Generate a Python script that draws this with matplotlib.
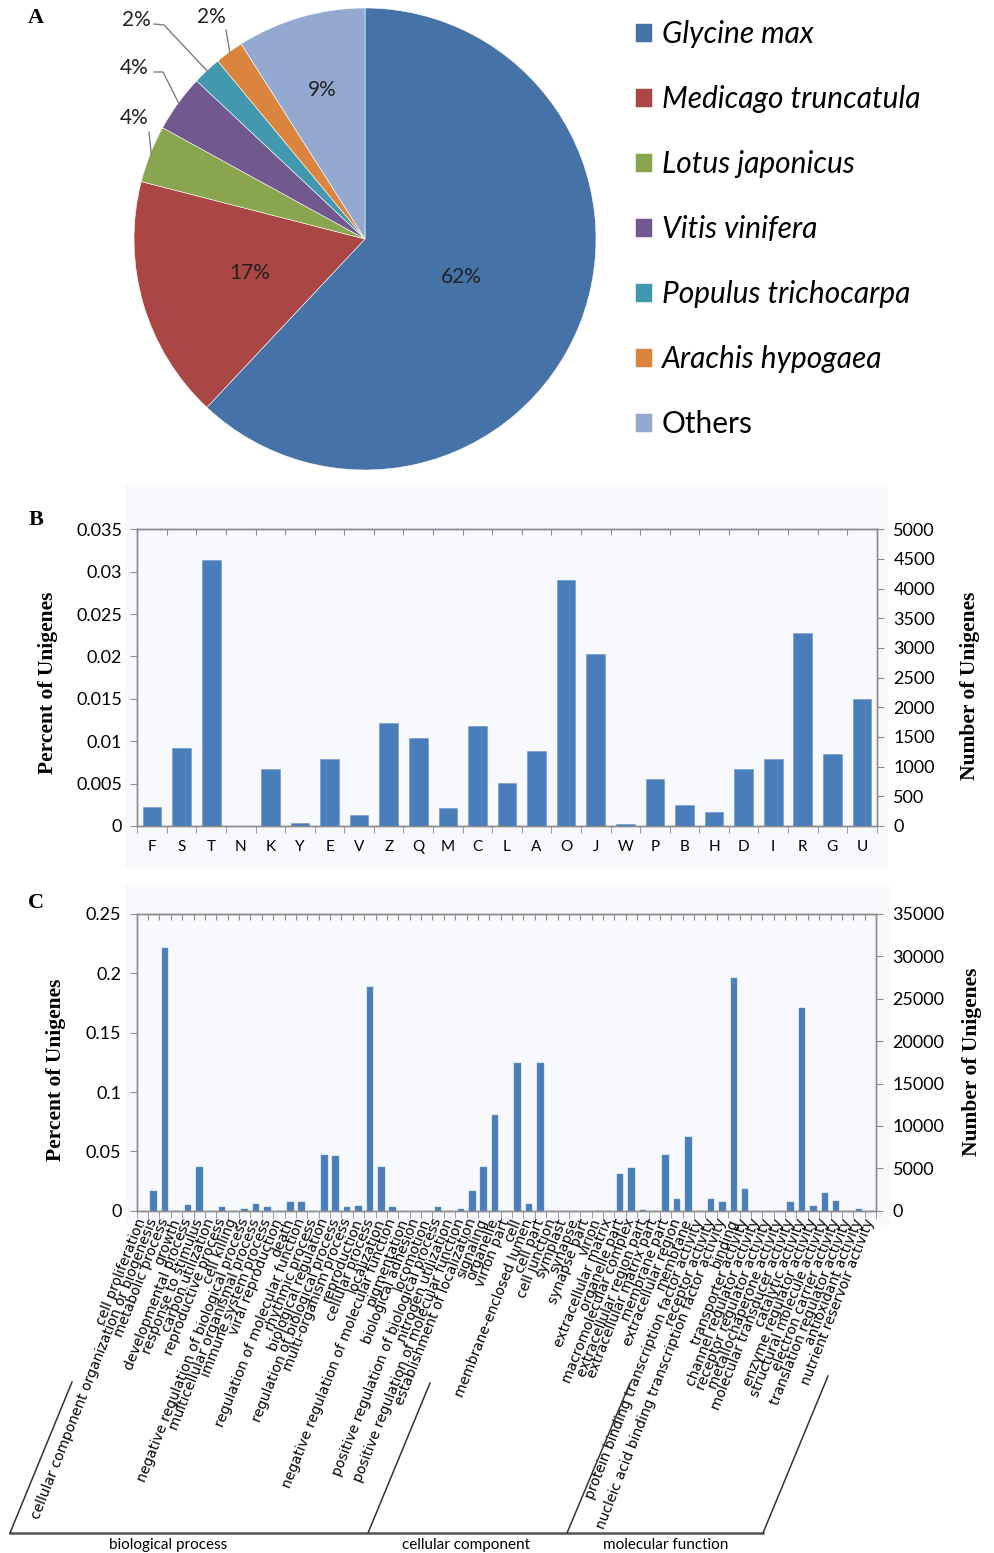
import numpy as np
import matplotlib
matplotlib.use("Agg")
import matplotlib.pyplot as plt
from matplotlib.patches import Rectangle
from matplotlib.lines import Line2D

plt.rcParams["font.family"] = ["Lato", "DejaVu Sans"]

W, H = 994, 1553

# ---- Panel A: species distribution of best hits
species = ["Glycine max", "Medicago truncatula", "Lotus japonicus", "Vitis vinifera",
           "Populus trichocarpa", "Arachis hypogaea", "Others"]
species_pct = [62, 17, 4, 4, 2, 2, 9]
species_colors = ["#4572A7", "#AA4643", "#89A54E", "#71588F", "#4198AF", "#DB843D", "#93A9CF"]

# ---- Panel B: COG classes
cog_classes = list("FSTNKYEVZQMCLAOJWPBHDIRGU")
cog_pct = [0.00228, 0.00925, 0.03135, 0.0, 0.00677, 0.0003, 0.00787, 0.0013, 0.0122,
           0.01035, 0.00216, 0.01184, 0.00503, 0.00889, 0.0290, 0.02025, 0.0002,
           0.00555, 0.00244, 0.00165, 0.00676, 0.00787, 0.02273, 0.00849, 0.01494]

# ---- Panel C: GO terms
go_terms = [
    "cell proliferation", "cellular component organization or biogenesis",
    "metabolic process", "growth", "developmental process", "response to stimulus",
    "carbon utilization", "reproductive process", "cell killing",
    "negative regulation of biological process", "multicellular organismal process",
    "immune system process", "viral reproduction", "death",
    "regulation of molecular function", "rhythmic process", "biological regulation",
    "regulation of biological process", "multi-organism process", "reproduction",
    "cellular process", "localization", "negative regulation of molecular function",
    "pigmentation", "biological adhesion", "locomotion",
    "positive regulation of biological process", "nitrogen utilization",
    "positive regulation of molecular function", "establishment of localization",
    "signaling",
    "organelle", "virion part", "cell", "membrane-enclosed lumen", "cell part",
    "cell junction", "symplast", "synapse", "synapse part", "virion",
    "extracellular matrix", "organelle part", "macromolecular complex",
    "extracellular region part", "extracellular matrix part", "membrane part",
    "extracellular region", "membrane",
    "protein binding transcription factor activity", "receptor activity",
    "nucleic acid binding transcription factor activity", "binding",
    "transporter activity", "channel regulator activity", "receptor regulator activity",
    "metallochaperone activity", "molecular transducer activity", "catalytic activity",
    "enzyme regulator activity", "structural molecule activity",
    "electron carrier activity", "translation regulator activity",
    "antioxidant activity", "nutrient reservoir activity",
]
go_pct = [
    0.0, 0.017, 0.221, 0.0, 0.0045, 0.037, 0.0, 0.0028, 0.0, 0.0017, 0.0056,
    0.0028, 0.0, 0.0073, 0.0073, 0.0, 0.047, 0.046, 0.0028, 0.0039, 0.1885,
    0.037, 0.0028, 0.0, 0.0, 0.0, 0.0028, 0.0, 0.0017, 0.0165, 0.0365,
    0.081, 0.0, 0.1247, 0.0056, 0.1247, 0.0, 0.0, 0.0, 0.0, 0.0, 0.0, 0.031,
    0.036, 0.001, 0.0, 0.047, 0.0096, 0.0624,
    0.0, 0.0096, 0.0073, 0.196, 0.0185, 0.0, 0.0, 0.0, 0.0073, 0.171, 0.0039,
    0.0152, 0.0079, 0.0, 0.0017, 0.0,
]
go_groups = ["biological process", "cellular component", "molecular function"]

BAR = "#4A7EBB"
GRID = "#8C8C8C"
BG = "#F8F9FC"
SERIF = "Liberation Serif"


def fx(x):
    return x / W


def fy(y):
    return 1 - y / H


fig = plt.figure(figsize=(W / 100, H / 100), dpi=100)

# chart area backgrounds (Excel style), kept behind the axes
for x0, y0, x1, y1 in [(125, 485, 888, 868), (125, 885, 890, 1225)]:
    fig.patches.append(Rectangle((fx(x0), fy(y1)), (x1 - x0) / W, (y1 - y0) / H,
                                 transform=fig.transFigure, facecolor=BG,
                                 edgecolor="none", zorder=-5))

# ================= A =================
cx, cy, r = 365, 239, 231
axA = fig.add_axes([fx(cx - r), fy(cy + r), 2 * r / W, 2 * r / H])
wedges, _ = axA.pie(species_pct, colors=species_colors, startangle=90,
                    counterclock=False,
                    wedgeprops=dict(edgecolor="white", linewidth=0.4))
axA.set_xlim(-1, 1)
axA.set_ylim(-1, 1)
axA.axis("off")


def to_pie(px, py):
    return (px - cx) / r, (cy - py) / r


# labels inside the big slices
inner = {0: 0.45, 1: 0.52, 6: 0.67}
for i, rad in inner.items():
    w = wedges[i]
    ang = np.deg2rad((w.theta1 + w.theta2) / 2)
    axA.text(rad * np.cos(ang), rad * np.sin(ang), f"{species_pct[i]}%",
             ha="center", va="center", fontsize=15, color="#222222")

# outside labels with leader lines: text pos, elbow points (pixels)
outer = {
    2: ((134, 118), [(149, 132)]),
    3: ((134, 68), [(154, 72), (163, 72)]),
    4: ((136, 20), [(154, 24), (164, 25)]),
    5: ((211, 17), [(226, 30)]),
}
for i, (tpos, elbows) in outer.items():
    w = wedges[i]
    ang = np.deg2rad((w.theta1 + w.theta2) / 2)
    ex, ey = 0.995 * np.cos(ang), 0.995 * np.sin(ang)
    pts = [to_pie(*p) for p in elbows] + [(ex, ey)]
    axA.plot([p[0] for p in pts], [p[1] for p in pts], color="#7F7F7F", lw=1,
             clip_on=False)
    tx, ty = to_pie(*tpos)
    axA.text(tx, ty, f"{species_pct[i]}%", ha="center", va="center",
             fontsize=15, color="#222222", clip_on=False)

leg = fig.legend(wedges, species, loc="upper left",
                 bbox_to_anchor=(fx(623), fy(8)), frameon=False,
                 fontsize=21.5, handlelength=0.57, handleheight=0.57,
                 handletextpad=0.33, labelspacing=1.24, borderaxespad=0)
for t in leg.get_texts()[:-1]:
    t.set_style("italic")

fig.text(fx(36), fy(18), "A", fontsize=16, fontweight="bold", family=SERIF,
         ha="center", va="center")


def style_bar_axes(ax, ax2, n, ylim, ystep, ylim2, ystep2):
    ax.set_facecolor(BG)
    ax.set_xlim(-0.5, n - 0.5)
    ax.set_ylim(*ylim)
    yt = np.arange(0, ylim[1] + ystep / 2, ystep)
    ax.set_yticks(yt, [f"{v:g}" for v in np.round(yt, 4)])
    ax2.set_ylim(*ylim2)
    yt2 = np.arange(0, ylim2[1] + ystep2 / 2, ystep2)
    ax2.set_yticks(yt2, [f"{int(v)}" for v in yt2])
    bounds = np.arange(-0.5, n, 1.0)
    ax.set_xticks(bounds, minor=True)
    ax.tick_params(axis="x", which="major", length=0)
    ax.tick_params(axis="x", which="minor", length=5, color=GRID, direction="out")
    ax.tick_params(axis="y", length=5, color=GRID, labelsize=13, pad=6)
    ax2.tick_params(axis="y", length=5, color=GRID, labelsize=13, pad=7)
    top = ax.secondary_xaxis("top")
    top.set_xticks(bounds, [""] * len(bounds))
    top.tick_params(direction="in", length=4, color=GRID)
    top.spines["top"].set_color(GRID)
    for a in (ax, ax2):
        for s in a.spines.values():
            s.set_color(GRID)
            s.set_linewidth(1)


# ================= B =================
axB = fig.add_axes([fx(137.3), fy(826), (876.7 - 137.3) / W, (826 - 529.3) / H])
xB = np.arange(len(cog_classes))
axB.bar(xB, cog_pct, width=0.63, color=BAR, edgecolor="#6A94C8", linewidth=0.4,
        zorder=3)
axB2 = axB.twinx()
style_bar_axes(axB, axB2, len(cog_classes), (0, 0.035), 0.005, (0, 5000), 500)
axB.set_xticks(xB, cog_classes)
axB.tick_params(axis="x", which="major", labelsize=11, pad=10)

fig.text(fx(48), fy(683), "Percent of Unigenes", rotation=90, fontsize=15.5,
         fontweight="bold", family=SERIF, ha="center", va="center")
fig.text(fx(970), fy(686), "Number of Unigenes", rotation=90, fontsize=15.5,
         fontweight="bold", family=SERIF, ha="center", va="center")
fig.text(fx(36), fy(520), "B", fontsize=16, fontweight="bold", family=SERIF,
         ha="center", va="center")

# ================= C =================
axC = fig.add_axes([fx(136.7), fy(1210.7), (876 - 136.7) / W, (1210.7 - 914) / H])
xC = np.arange(len(go_terms))
axC.bar(xC, go_pct, width=0.58, color=BAR, edgecolor="#6A94C8", linewidth=0.3,
        zorder=3)
axC2 = axC.twinx()
style_bar_axes(axC, axC2, len(go_terms), (0, 0.25), 0.05, (0, 35000), 5000)
axC.set_xticks(xC)
axC.set_xticklabels(go_terms, rotation=68.5, ha="right", va="center",
                    rotation_mode="anchor", fontsize=10, family="DejaVu Sans")
axC.tick_params(axis="x", which="major", pad=6)

fig.text(fx(56), fy(1070), "Percent of Unigenes", rotation=90, fontsize=15.5,
         fontweight="bold", family=SERIF, ha="center", va="center")
fig.text(fx(972), fy(1062), "Number of Unigenes", rotation=90, fontsize=15.5,
         fontweight="bold", family=SERIF, ha="center", va="center")
fig.text(fx(36), fy(903), "C", fontsize=16, fontweight="bold", family=SERIF,
         ha="center", va="center")

# group brackets under the GO labels
fig.add_artist(Line2D([fx(10), fx(763)], [fy(1533), fy(1533)],
                      transform=fig.transFigure, color="#555555", lw=1.8))
for (x0, y0), (x1, y1) in [((10, 1533), (72, 1382)), ((368, 1533), (430, 1383)),
                           ((567, 1533), (630, 1383)), ((763, 1533), (828, 1376))]:
    fig.add_artist(Line2D([fx(x0), fx(x1)], [fy(y0), fy(y1)],
                          transform=fig.transFigure, color="#333333", lw=1.1))
for name, xc in zip(go_groups, [168, 466, 666]):
    fig.text(fx(xc), fy(1545), name, fontsize=11, ha="center", va="center")

fig.savefig("out.png", dpi=100)
